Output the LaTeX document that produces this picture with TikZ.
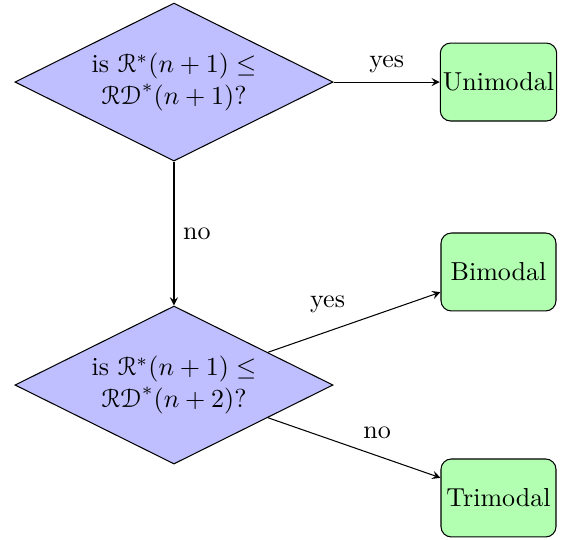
\documentclass[tikz,border=0pt]{standalone}
\usepackage{eucal}
\usetikzlibrary{shapes.geometric}
\tikzset{
  decision/.style={diamond, draw, fill=blue!25, aspect=2, minimum width=4.3cm, minimum height=2.136cm, inner sep=0pt, align=center},
  outcome/.style={rectangle, draw, rounded corners, fill=green!30, minimum width=1.555cm, minimum height=1.054cm, inner xsep=1pt},
}
\begin{document}
\begin{tikzpicture}[>=stealth]
    \useasboundingbox (0,0) rectangle (7.665,-7.287);

    \node[decision] (q1) at (2.352,-1.109) {is $\mathcal{R}^*(n+1) \leq$\\ $\mathcal{RD}^*(n+1)$?};
    \node[decision] (q2) at (2.352,-5.205) {is $\mathcal{R}^*(n+1) \leq$\\ $\mathcal{RD}^*(n+2)$?};
    \node[outcome] (uni) at (6.739,-1.109) {Unimodal};
    \node[outcome] (bi) at (6.739,-3.677) {Bimodal};
    \node[outcome] (tri) at (6.739,-6.732) {Trimodal};

    \draw[->] (q1) -- node[above] {yes} (uni);
    \draw[->] (q1) -- node[right] {no} (q2);
    \draw[->] (q2) -- node[above left] {yes} (bi);
    \draw[->] (q2) -- node[above right] {no} (tri);
\end{tikzpicture}
\end{document}
